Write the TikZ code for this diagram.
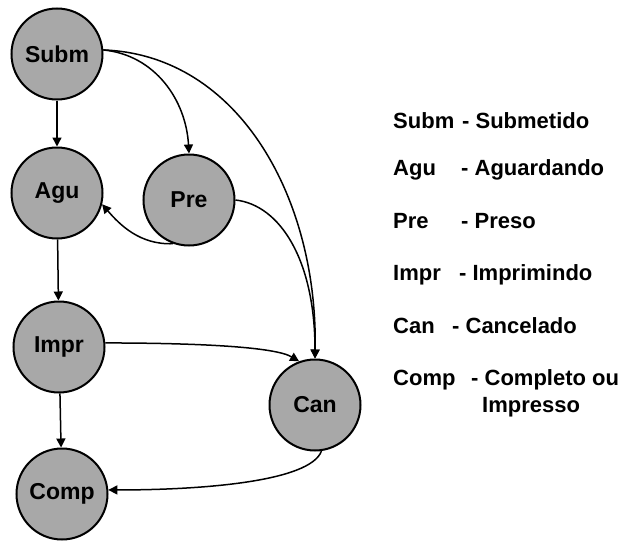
\documentclass[tikz,border=0pt]{standalone}
\usepackage{fontspec}
\setmainfont{Liberation Sans}
\usetikzlibrary{arrows.meta}
\definecolor{stategray}{RGB}{168,168,168}
\begin{document}
\begin{tikzpicture}[x=1pt,y=-1pt,
  state/.style={circle,draw=black,line width=2pt,fill=stategray,
    minimum size=91pt,inner sep=0pt,font=\bfseries\fontsize{23}{26}\selectfont},
  trans/.style={draw=black,line width=1.5pt,-{Triangle[length=9pt,width=9pt]}},
  legend/.style={anchor=base west,inner sep=0pt,font=\bfseries\fontsize{22}{26}\selectfont}]
\useasboundingbox (0,0) rectangle (625,541);

% states
\node[state] (subm) at (57,54)  {Subm};
\node[state] (agu)  at (57,193) {Agu};
\node[state] (pre)  at (189,200) {Pre};
\node[state] (impr) at (59,347) {Impr};
\node[state] (can)  at (315,405) {Can};
\node[state] (comp) at (62,494) {Comp};

% transitions
\draw[trans] (subm) -- (agu);
\draw[trans] (agu) -- (impr);
\draw[trans] (impr) -- (comp);
\draw[trans] (subm.5) .. controls (155,55) and (186,100) .. (pre.north);
\draw[trans] (subm.5) .. controls (240,55) and (318,200) .. (can.north);
\draw[trans] (pre.250) .. controls (140,245) and (120,225) .. (agu.-14);
\draw[trans] (pre.east) .. controls (280,205) and (315,260) .. (can.north);
\draw[trans] (impr.5) .. controls (200,343) and (275,347) .. (can.110);
\draw[trans] (can.-82) .. controls (310,482) and (200,490) .. (comp.5);

% legend
\node[legend] (l1a) at (393,128) {Subm};
\node[legend] (l1b) at (462,128) {- Submetido};
\node[legend] (l2a) at (393,175) {Agu};
\node[legend] (l2b) at (461,175) {- Aguardando};
\node[legend] (l3a) at (393,228) {Pre};
\node[legend] (l3b) at (461,228) {- Preso};
\node[legend] (l4a) at (393,280) {Impr};
\node[legend] (l4b) at (459,280) {- Imprimindo};
\node[legend] (l5a) at (393,333) {Can};
\node[legend] (l5b) at (452,333) {- Cancelado};
\node[legend] (l6a) at (393,385) {Comp};
\node[legend] (l6b) at (471,385) {- Completo ou};
\node[legend] (l6c) at (482,412) {Impresso};
\end{tikzpicture}
\end{document}
